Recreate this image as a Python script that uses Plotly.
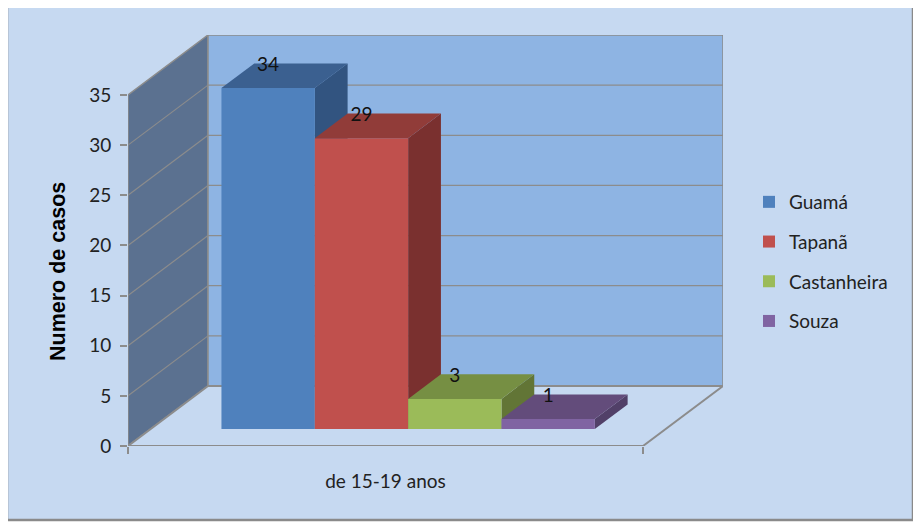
import plotly.graph_objects as go

categories = ["de 15-19 anos"]
series = ["Guamá", "Tapanã", "Castanheira", "Souza"]
values = [34, 29, 3, 1]
y_ticks = [0, 5, 10, 15, 20, 25, 30, 35]

front_colors = ["#4F81BD", "#C0504D", "#9BBB59", "#8064A2"]
top_colors = ["#3B6090", "#913C39", "#768F43", "#634C7B"]
side_colors = ["#325480", "#7A302F", "#627536", "#514068"]

# the page body has an 8px margin, so figure pixels = screen pixels - 8
OFF = 8
W, H = 921 - OFF, 527 - OFF
# plot area = front-left corner to back-right corner of the 3D box (screen px)
L, R, T, B = 128 - OFF, 723 - OFF, 35 - OFF, 446 - OFF
FLOOR_PX = 515  # width of the front floor edge
PX_Y = 351 / 35  # pixels per case on the front plane

y_max = y_ticks[-1]
WX = 80 / FLOOR_PX  # depth offset of the back wall, x units
WY = 60 / PX_Y  # depth offset of the back wall, y units
x_lo = -0.5
x_hi = x_lo + (R - L) / FLOOR_PX
y_hi = (B - T) / PX_Y

D0 = 0.283  # depth of the bar front faces (fraction of full depth)
DD = 0.41  # bar thickness (fraction of full depth)
GROUP_W = 0.725

GRID = "#8C8C8C"
BG = "#C6D9F1"


def px2paper(px, py):
    # screen pixel -> paper coords
    return (px - OFF - L) / (R - L), (B - (py - OFF)) / (B - T)


shapes = []
bx0, by0 = px2paper(7, 520)
bx1, by1 = px2paper(913, 5)
shapes.append(dict(type="rect", xref="paper", yref="paper", x0=bx0, y0=by0,
                   x1=bx1, y1=by1, fillcolor=BG, line=dict(color="#8A8A8A", width=2.5),
                   layer="below"))

# walls and floor
shapes.append(dict(type="path", layer="below", fillcolor="#5B7190", line=dict(color=GRID, width=1.5),
                   path=f"M {x_lo},0 L {x_lo},{y_max} L {x_lo + WX},{y_max + WY} L {x_lo + WX},{WY} Z"))
shapes.append(dict(type="rect", layer="below", fillcolor="#8EB4E3", line=dict(color=GRID, width=1.5),
                   x0=x_lo + WX, x1=0.5 + WX, y0=WY, y1=y_max + WY))
shapes.append(dict(type="path", layer="below", fillcolor=BG, line=dict(color=GRID, width=2),
                   path=f"M {x_lo},0 L 0.5,0 L {0.5 + WX},{WY} L {x_lo + WX},{WY} Z"))

for v in y_ticks[1:-1]:
    shapes.append(dict(type="line", layer="below", line=dict(color=GRID, width=1.2),
                       x0=x_lo, y0=v, x1=x_lo + WX, y1=v + WY))
    shapes.append(dict(type="line", layer="below", line=dict(color=GRID, width=1.2),
                       x0=x_lo + WX, y0=v + WY, x1=0.5 + WX, y1=v + WY))

fig = go.Figure()

bw = GROUP_W / len(series)
yb = D0 * WY
ddx, ddy = DD * WX, DD * WY
for i, (name, v) in enumerate(zip(series, values)):
    x0 = -GROUP_W / 2 + i * bw + D0 * WX
    x1 = x0 + bw
    yt = yb + v
    xc = (x0 + x1) / 2

    # right side face, kept under the bars so the next front face covers it
    shapes.append(dict(type="path", layer="below", fillcolor=side_colors[i], line=dict(width=0),
                       path=f"M {x1},{yb} L {x1},{yt} L {x1 + ddx},{yt + ddy} L {x1 + ddx},{yb + ddy} Z"))

    fig.add_trace(go.Bar(
        x=[xc], y=[v], base=[yb], width=[bw], name=name,
        marker=dict(color=front_colors[i], line=dict(width=0)),
        legendgroup=name, hoverinfo="skip",
    ))
    fig.add_trace(go.Scatter(
        x=[x0, x1, x1 + ddx, x0 + ddx, x0], y=[yt, yt, yt + ddy, yt + ddy, yt],
        mode="lines", fill="toself", fillcolor=top_colors[i], line=dict(width=0),
        showlegend=False, hoverinfo="skip",
    ))
    fig.add_trace(go.Scatter(
        x=[xc], y=[yt + ddy - 0.3], mode="text", text=[str(v)],
        textfont=dict(family="Lato", size=19, color="#111111"),
        showlegend=False, hoverinfo="skip",
    ))

lx, ly = px2paper(749, 183)
tx, ty = px2paper(58, 272)
fig.update_layout(
    width=W, height=H,
    margin=dict(l=L, r=W - R, t=T, b=H - B),
    paper_bgcolor="white",
    plot_bgcolor="rgba(0,0,0,0)",
    barmode="overlay",
    shapes=shapes,
    font=dict(family="Lato", size=19, color="#222222"),
    legend=dict(x=lx, y=ly, xanchor="left", yanchor="top", tracegroupgap=12,
                bgcolor="rgba(0,0,0,0)", font=dict(family="Lato", size=19, color="#222222")),
    xaxis=dict(range=[x_lo, x_hi], showgrid=False, zeroline=False, showline=False,
               tickvals=[0], ticktext=categories, ticks="", ticklabelstandoff=22,
               minor=dict(tickvals=[-0.5, 0.5], ticks="outside", ticklen=7, tickcolor=GRID,
                          tickwidth=2, showgrid=False)),
    yaxis=dict(range=[0, y_hi], showgrid=False, zeroline=False, showline=False,
               tickvals=y_ticks, ticks="outside", ticklen=7, tickcolor=GRID, tickwidth=2,
               ticklabelstandoff=5),
    annotations=[dict(text="<b>Numero de casos</b>", xref="paper", yref="paper", x=tx, y=ty,
                      textangle=-90, showarrow=False, xanchor="center", yanchor="middle",
                      font=dict(family="Liberation Sans", size=21.5, color="#000000"))],
)

fig.write_html("out.html")
